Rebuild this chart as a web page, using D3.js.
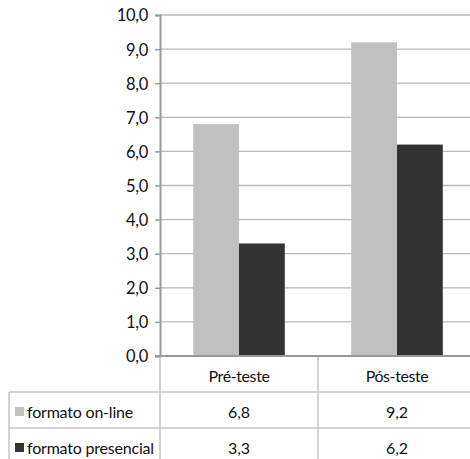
<!DOCTYPE html>
<html>
<head>
<meta charset="utf-8">
<script src="https://cdn.jsdelivr.net/npm/d3@7"></script>
<style>
  html, body { margin: 0; padding: 0; background: #fff; }
  svg { display: block; }
  text { font-family: Lato, "Open Sans", sans-serif; fill: #111; }
</style>
</head>
<body>
<svg id="chart" width="470" height="459"></svg>
<script>
// Data
const categories = ["Pré-teste", "Pós-teste"];
const seriesNames = ["formato on-line", "formato presencial"];
const seriesColors = ["#c0c0c0", "#333333"];
const onlineValues = [6.8, 9.2];
const presencialValues = [3.3, 6.2];
const yTicks = [0, 1, 2, 3, 4, 5, 6, 7, 8, 9, 10];

const seriesValues = [onlineValues, presencialValues];
const fmt = v => d3.format(".1f")(v).replace(".", ",");

const svg = d3.select("#chart");

// Plot area
const plotLeft = 160, plotRight = 476, plotTop = 15, plotBottom = 356;
const tableLeft = 9;
const rowH = 36;

const y = d3.scaleLinear().domain([0, 10]).range([plotBottom, plotTop]);
const x = d3.scaleBand().domain(categories).range([plotLeft, plotRight]).paddingInner(0).paddingOuter(0);
const xs = d3.scaleBand().domain(seriesNames).range([0, x.bandwidth()]).paddingInner(0).paddingOuter(0.725);

// Gridlines
svg.append("g")
  .selectAll("line")
  .data(yTicks.filter(t => t > 0))
  .join("line")
  .attr("x1", plotLeft).attr("x2", plotRight)
  .attr("y1", d => y(d)).attr("y2", d => y(d))
  .attr("stroke", "#b8b8b8")
  .attr("stroke-width", 1.3);

// Bars
const groups = svg.append("g")
  .selectAll("g")
  .data(categories)
  .join("g")
  .attr("transform", d => `translate(${x(d)},0)`);

groups.selectAll("rect")
  .data((c, ci) => seriesNames.map((s, si) => ({ s, si, v: seriesValues[si][ci] })))
  .join("rect")
  .attr("x", d => xs(d.s))
  .attr("width", xs.bandwidth())
  .attr("y", d => y(d.v))
  .attr("height", d => y(0) - y(d.v))
  .attr("fill", d => seriesColors[d.si]);

// Y axis
const yAxis = svg.append("g")
  .attr("transform", `translate(${plotLeft},0)`)
  .call(d3.axisLeft(y).tickValues(yTicks).tickFormat(fmt).tickSize(5).tickPadding(7));
yAxis.select(".domain").attr("stroke", "#999").attr("stroke-width", 2);
yAxis.selectAll(".tick line").attr("stroke", "#999").attr("stroke-width", 1.5);
yAxis.selectAll(".tick text")
  .style("font-family", "Lato, 'Open Sans', sans-serif")
  .style("font-size", "16.5px")
  .style("letter-spacing", "-0.3px")
  .attr("fill", "#111")
  .attr("dy", "0.36em");

// Baseline
svg.append("line")
  .attr("x1", plotLeft - 5).attr("x2", plotRight)
  .attr("y1", plotBottom).attr("y2", plotBottom)
  .attr("stroke", "#999").attr("stroke-width", 2);

// Data table grid
const tg = svg.append("g").attr("stroke", "#c4c4c4").attr("stroke-width", 1.5);
const rowY = [plotBottom + rowH, plotBottom + 2 * rowH];
rowY.forEach(ry => {
  tg.append("line").attr("x1", tableLeft).attr("x2", plotRight).attr("y1", ry).attr("y2", ry);
});
tg.append("line").attr("x1", tableLeft).attr("x2", tableLeft).attr("y1", rowY[0]).attr("y2", 470);
[plotLeft, plotLeft + x.bandwidth()].forEach(vx => {
  tg.append("line").attr("x1", vx).attr("x2", vx).attr("y1", plotBottom + 1).attr("y2", 470);
});

// Category header row
svg.append("g")
  .selectAll("text")
  .data(categories)
  .join("text")
  .attr("x", d => x(d) + x.bandwidth() / 2)
  .attr("y", plotBottom + 26)
  .attr("text-anchor", "middle")
  .style("font-size", "16px")
  .style("letter-spacing", "-0.4px")
  .text(d => d);

// Series rows
seriesNames.forEach((s, si) => {
  const base = plotBottom + rowH * (si + 1);
  svg.append("rect")
    .attr("x", 15).attr("y", base + 15)
    .attr("width", 9).attr("height", 9)
    .attr("fill", seriesColors[si]);
  svg.append("text")
    .attr("x", 27).attr("y", base + 26)
    .style("font-size", "16px")
    .style("letter-spacing", "-0.2px")
    .text(s);
  svg.append("g")
    .selectAll("text")
    .data(categories)
    .join("text")
    .attr("x", d => x(d) + x.bandwidth() / 2)
    .attr("y", base + 26)
    .attr("text-anchor", "middle")
    .style("font-size", "16px")
    .text((d, ci) => fmt(seriesValues[si][ci]));
});
</script>
</body>
</html>
